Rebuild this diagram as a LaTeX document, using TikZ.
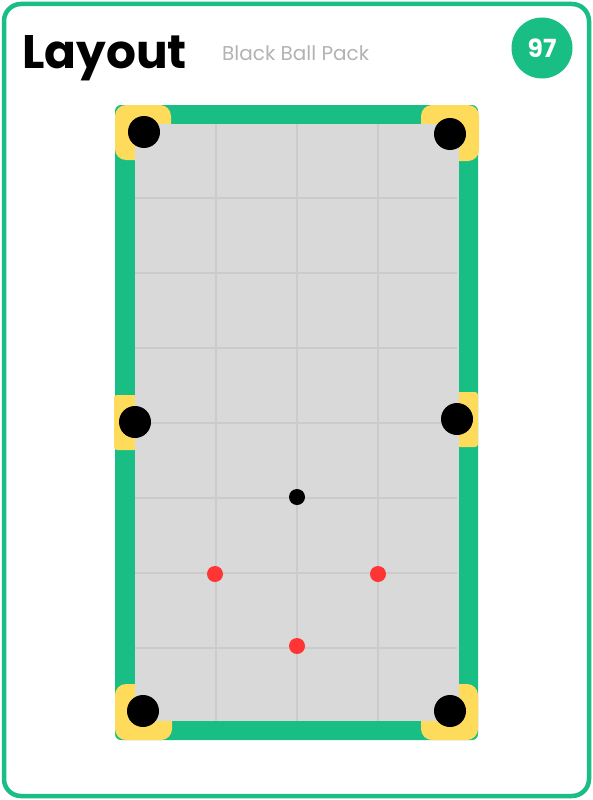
\documentclass[tikz,border=0pt]{standalone}
\usepackage{fontspec}
\setmainfont{Poppins}
\definecolor{cardgreen}{HTML}{18BE84}
\definecolor{pocketyellow}{HTML}{FFDB5C}
\definecolor{felt}{HTML}{D9D9D9}
\definecolor{gridgray}{HTML}{CBCBCB}
\definecolor{ballred}{HTML}{FF3535}
\definecolor{subgray}{HTML}{B3B3B3}
\tikzset{
  pocketball/.style={circle, fill=black, minimum size=32pt, inner sep=0pt},
  blackball/.style={circle, fill=black, minimum size=16pt, inner sep=0pt},
  redball/.style={circle, fill=ballred, minimum size=16pt, inner sep=0pt},
  cushion/.style={fill=pocketyellow, rounded corners=11pt},
  sidecushion/.style={fill=pocketyellow, rounded corners=3pt},
  gridline/.style={draw=gridgray, line width=2.2pt},
}
\begin{document}
\begin{tikzpicture}[x=1pt,y=-1pt]
\useasboundingbox (0,0) rectangle (593,800);
\fill[white] (0,0) rectangle (593,800);
% card border
\draw[cardgreen, line width=4.5pt, rounded corners=17pt] (4,4) rectangle (589,796);
% title
\node[anchor=base west, inner sep=0pt, font=\bfseries\fontsize{47}{50}\selectfont] (title) at (22,68) {Layout};
\node[anchor=base west, inner sep=0pt, text=subgray, font=\fontsize{20}{24}\selectfont] (subtitle) at (222,61) {Black Ball Pack};
% badge
\node[circle, fill=cardgreen, minimum size=61pt, inner sep=0pt, text=white, font=\bfseries\fontsize{25}{28}\selectfont] (badge) at (542,48) {97};
% rail
\fill[cardgreen, rounded corners=6pt] (115,105) rectangle (478,740);
% corner cushions
\path[cushion] (115,105) rectangle (171,160);
\path[cushion] (421,105) rectangle (479,161);
\path[cushion] (115,684) rectangle (172,740);
\path[cushion] (421,684) rectangle (478,740);
% side cushions
\path[sidecushion] (114,395) rectangle (137,450);
\path[sidecushion] (457,392) rectangle (478,447);
% felt
\fill[felt] (135,124) rectangle (459,721);
% grid
\begin{scope}
\clip (135,124) rectangle (459,721);
\foreach \gx in {216,297,378} \draw[gridline] (\gx,124) -- (\gx,721);
\foreach \gy in {198,273,348,423,498,573,648} \draw[gridline] (135,\gy) -- (457,\gy);
\end{scope}
% pockets
\node[pocketball] (ptl) at (144,132) {};
\node[pocketball] (ptr) at (450,134) {};
\node[pocketball] (pbl) at (143,711) {};
\node[pocketball] (pbr) at (450,711) {};
\node[pocketball] (pml) at (135,422) {};
\node[pocketball] (pmr) at (457,419) {};
% balls
\node[blackball] (bk) at (297,497) {};
\node[redball] (r1) at (215,574) {};
\node[redball] (r2) at (378,574) {};
\node[redball] (r3) at (297,646) {};
\end{tikzpicture}
\end{document}
